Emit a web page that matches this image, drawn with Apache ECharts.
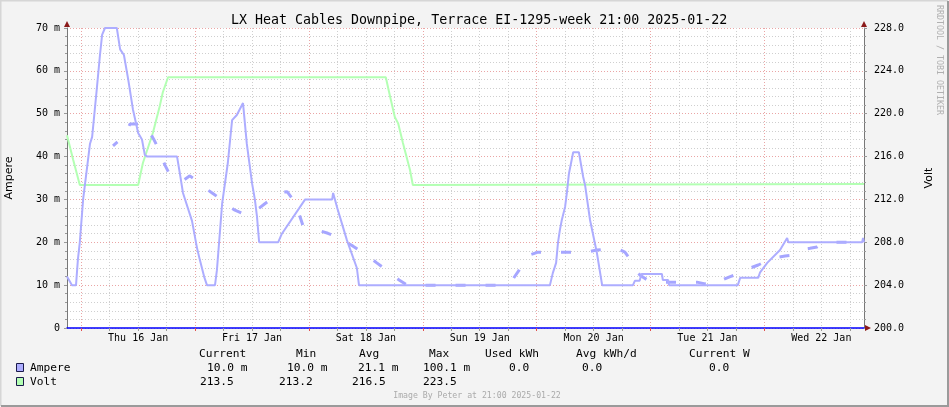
<!DOCTYPE html>
<html>
<head>
<meta charset="utf-8">
<script src="https://cdn.jsdelivr.net/npm/echarts@6/dist/echarts.min.js"></script>
<style>
html,body{margin:0;padding:0;background:#f3f3f3;}
#c{width:949px;height:407px;}
</style>
</head>
<body>
<div id="c"></div>
<script>
// ---- data (time = hours since 2025-01-15 00:00) ----
const titleText = 'LX Heat Cables Downpipe, Terrace EI-1295-week 21:00 2025-01-22';
const dayLabels = ['Thu 16 Jan','Fri 17 Jan','Sat 18 Jan','Sun 19 Jan','Mon 20 Jan','Tue 21 Jan','Wed 22 Jan'];
const timeRange = [21, 189];           // 2025-01-15 21:00 .. 2025-01-22 21:00
const leftTicks = [0,10,20,30,40,50,60,70];
const rightTicks = [200,204,208,212,216,220,224,228];

const ampere = [[21.0,12],[22.05,10],[22.9,10],[23.3,16],[23.7,20],[24.4,30],[25.85,43],[26.3,44.6],[27.3,56],[27.95,63.7],[28.4,68.4],[29.0,70],[31.5,70],[32.2,65],[33.0,63.7],[33.9,58],[34.9,51],[36.0,45.5],[36.8,44],[37.4,40.4],[37.9,40],[44.2,40],[44.8,36],[45.45,31.5],[47.35,25],[48.4,18.7],[49.0,15.9],[49.9,12],[50.5,10],[52.2,10],[52.6,13.5],[53.7,29],[54.9,38.5],[55.8,48.5],[56.8,49.7],[58.1,52.5],[58.9,43],[60.0,33.8],[60.6,30],[61.05,26],[61.5,20],[65.5,20],[66.3,22],[71.2,30],[76.9,30],[77.1,31.5],[78.1,27.5],[80.0,20.5],[82.1,14],[82.55,10],[122.8,10],[123.4,12.8],[124.1,15.2],[124.5,20],[124.9,22.9],[125.3,25.2],[126.0,28.3],[126.4,31.8],[126.8,36],[127.7,41],[128.9,41],[129.8,35.3],[130.2,33.4],[131.25,25.2],[132.7,17.5],[133.8,10],[140.3,10],[140.7,11],[141.7,11],[142.1,12.6],[146.4,12.6],[146.6,11.2],[147.7,11.2],[147.9,10],[162.4,10],[162.9,11.7],[166.7,11.7],[167.1,13],[168.6,15.2],[171.3,18.2],[172.8,21],[173.05,20],[188.6,20],[188.8,21],[189,20]];

const ampereTrend = [[30.7,42.5],[32.8,44.6],[34.3,47.6],[37.4,47.6],[39.3,44],[40.2,42],[41.65,38],[42.7,35.7],[44.2,34.8],[45.45,34.4],[46.9,35.5],[48.2,34.5],[49.7,33],[51.6,31.5],[53.25,30.2],[54.7,28.7],[56.4,27.5],[58.5,26.5],[60.0,26.8],[61.3,27.8],[62.7,29],[64.4,30.3],[66.5,31.7],[67.4,31.8],[68.4,30.3],[69.5,28],[70.7,24],[72.6,23.2],[74.3,22.7],[76.0,22.1],[78.1,21.2],[79.6,20.2],[81.3,19.1],[83.2,17.7],[84.9,16.4],[86.3,15.2],[88.0,13.8],[89.5,12.4],[91.0,11.2],[92.7,10],[111.6,10],[113.3,10.4],[115.0,11.4],[116.3,13.5],[117.3,15.4],[118.4,17],[120.3,17.7],[126.6,17.7],[130.6,17.7],[132.7,18.2],[134.6,18.4],[136.5,18.4],[137.6,18.2],[138.6,17.7],[139.7,16],[140.7,14],[141.8,12.3],[143.5,11.1],[145.2,10.7],[153.8,10.7],[155.5,10.3],[157.4,10],[159.1,11.2],[160.8,12],[162.4,12.6],[164.55,13.8],[166.7,14.7],[169.8,16.3],[172.35,16.8],[173.8,17],[175.5,18.2],[177.6,18.6],[179.1,18.9],[180.4,19.8],[182.9,20],[189,20]];

const volt = [[21,218],[22.3,215.7],[23.7,213.35],[36.0,213.35],[37.0,215.4],[39.1,218.2],[40.6,220.8],[41.2,222],[42.3,223.4],[88.2,223.4],[89.1,221.6],[90.1,219.7],[90.8,219.1],[91.8,217.3],[93.3,214.75],[93.9,213.35],[189,213.45]];

const statHeaders = ['Current','Min','Avg','Max','Used kWh','Avg kWh/d','Current W'];
const ampereStats = ['10.0 m','10.0 m','21.1 m','100.1 m','0.0','0.0','0.0'];
const voltStats = ['213.5','213.2','216.5','223.5'];
const seriesNames = ['Ampere','Volt'];
const footerText = 'Image By Peter at 21:00 2025-01-22';
const creditText = 'RRDTOOL / TOBI OETIKER';

// hourly category scaffold for grid lines / labels
const hourCats = [];
for (let h = timeRange[0]; h <= timeRange[1]; h++) hourCats.push(String(h));

// ---- layout ----
const MONO = "'DejaVu Sans Mono', monospace";
const C_AMP = '#adadff', C_VOLT = '#b3ffb3';
const C_MAJOR = '#eaa5a5', C_MINOR = '#cfcfcf';
const headerX = [199,296,359,429,485,576,689];
const ampX = [207,287,358,423,509,582,709];
const voltX = [200,279,352,423];

const chart = echarts.init(document.getElementById('c'), null, {renderer:'canvas'});

const graphic = [];
graphic.push({type:'polyline', shape:{points:[[0.5,406],[0.5,0.5],[948,0.5]]}, style:{stroke:'#d6d6d6', lineWidth:2, fill:null}, silent:true});
graphic.push({type:'polyline', shape:{points:[[1,406],[948,406],[948,1]]}, style:{stroke:'#9a9a9a', lineWidth:2, fill:null}, silent:true});
graphic.push({type:'polygon', shape:{points:[[64,27],[70,27],[67,21]]}, style:{fill:'#8b1a1a'}, z:10});
graphic.push({type:'polygon', shape:{points:[[861,27],[867,27],[864,21]]}, style:{fill:'#8b1a1a'}, z:10});
graphic.push({type:'polygon', shape:{points:[[865,325],[865,331],[871,328]]}, style:{fill:'#8b1a1a'}, z:10});
statHeaders.forEach((t,i)=>graphic.push({type:'text', x:headerX[i], y:354, style:{text:t, font:'11.2px '+MONO, fill:'#000', verticalAlign:'middle'}}));
[[C_AMP,368],[C_VOLT,382]].forEach((r,i)=>{
  graphic.push({type:'rect', shape:{x:16.5,y:r[1]-4.5,width:7,height:8}, style:{fill:r[0], stroke:'#1a1a4a', lineWidth:1}});
  graphic.push({type:'text', x:30, y:r[1], style:{text:seriesNames[i], font:'11.2px '+MONO, fill:'#000', verticalAlign:'middle'}});
});
ampereStats.forEach((t,i)=>graphic.push({type:'text', x:ampX[i], y:368, style:{text:t, font:'11.2px '+MONO, fill:'#000', verticalAlign:'middle'}}));
voltStats.forEach((t,i)=>graphic.push({type:'text', x:voltX[i], y:382, style:{text:t, font:'11.2px '+MONO, fill:'#000', verticalAlign:'middle'}}));
graphic.push({type:'text', x:477, y:396, style:{text:footerText, font:'8.2px '+MONO, fill:'#aaaaaa', align:'center', verticalAlign:'middle'}});
graphic.push({type:'text', x:939, y:5, rotation:-Math.PI/2, style:{text:creditText, font:'8.3px '+MONO, fill:'#b0b0b0', align:'left', verticalAlign:'middle'}});

const hourOf = v => Number(v);
const option = {
  animation:false,
  backgroundColor:'#f3f3f3',
  title:{text:titleText, left:226, top:9, textStyle:{fontFamily:MONO, fontSize:13.3, fontWeight:'normal', color:'#000'}},
  grid:{left:67, right:85, top:28, bottom:79, show:true, backgroundColor:'#ffffff', borderWidth:0, containLabel:false, outerBoundsMode:'none'},
  xAxis:[
    {type:'value', min:timeRange[0], max:timeRange[1], position:'bottom',
     axisLine:{show:true, onZero:false, lineStyle:{color:'#0000ff', width:1.5}},
     axisTick:{show:false}, axisLabel:{show:false}, splitLine:{show:false}},
    {type:'category', data:hourCats, boundaryGap:false, position:'bottom',
     axisLine:{show:false},
     axisTick:{show:true, length:3, interval:(i,v)=>hourOf(v)%6===0, lineStyle:{color:'#999'}},
     axisLabel:{show:false},
     splitLine:{show:true, interval:(i,v)=>hourOf(v)%6===0 && hourOf(v)%24!==0, lineStyle:{color:C_MINOR, type:[1,2], width:1}}},
    {type:'category', data:hourCats, boundaryGap:false, position:'bottom',
     axisLine:{show:false},
     axisTick:{show:true, length:3, interval:(i,v)=>hourOf(v)%24===0, lineStyle:{color:'#e05050'}},
     axisLabel:{show:true, margin:5, interval:(i,v)=>hourOf(v)%24===12, hideOverlap:false,
       fontFamily:MONO, fontSize:10, color:'#000',
       formatter:v=>dayLabels[(hourOf(v)-36)/24] || ''},
     splitLine:{show:true, interval:(i,v)=>hourOf(v)%24===0, lineStyle:{color:C_MAJOR, type:[1,2], width:1}}}
  ],
  yAxis:[
    {type:'value', min:leftTicks[0], max:leftTicks[leftTicks.length-1], interval:10,
     name:'Ampere', nameLocation:'middle', nameGap:52, nameRotate:90,
     nameTextStyle:{fontFamily:"'DejaVu Sans', sans-serif", fontSize:11, color:'#000'},
     axisLine:{show:true, lineStyle:{color:'#777', width:1}},
     axisTick:{show:true, length:3, lineStyle:{color:'#999'}},
     minorTick:{show:true, splitNumber:5, length:2, lineStyle:{color:'#999'}},
     axisLabel:{margin:7, fontFamily:MONO, fontSize:10, color:'#000', formatter:v=>v===0?'0':v+' m'},
     splitLine:{show:true, lineStyle:{color:C_MAJOR, type:[1,2]}},
     minorSplitLine:{show:true, lineStyle:{color:C_MINOR, type:[1,2]}}},
    {type:'value', min:rightTicks[0], max:rightTicks[rightTicks.length-1], interval:4, position:'right',
     name:'Volt', nameLocation:'middle', nameGap:60, nameRotate:90,
     nameTextStyle:{fontFamily:"'DejaVu Sans', sans-serif", fontSize:11, color:'#000'},
     axisLine:{show:true, lineStyle:{color:'#777', width:1}},
     axisTick:{show:true, length:3, lineStyle:{color:'#999'}},
     minorTick:{show:true, splitNumber:5, length:2, lineStyle:{color:'#999'}},
     axisLabel:{margin:10, fontFamily:MONO, fontSize:10, color:'#000', formatter:v=>v.toFixed(1)},
     splitLine:{show:false}}
  ],
  series:[
    {name:'Volt', type:'line', xAxisIndex:0, yAxisIndex:1, data:volt, showSymbol:false, symbol:'none',
     lineStyle:{color:C_VOLT, width:2}, z:3},
    {name:'Ampere trend', type:'line', xAxisIndex:0, yAxisIndex:0, data:ampereTrend, showSymbol:false, symbol:'none',
     lineStyle:{color:'#a6a6ff', width:3, type:[10,20], dashOffset:4, cap:'butt'}, z:4},
    {name:'Ampere', type:'line', xAxisIndex:0, yAxisIndex:0, data:ampere, showSymbol:false, symbol:'none',
     lineStyle:{color:C_AMP, width:2}, z:5}
  ],
  graphic:graphic
};
chart.setOption(option);
</script>
</body>
</html>
